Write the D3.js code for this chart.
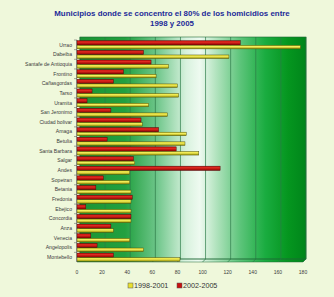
<!DOCTYPE html>
<html lang="es">
<head>
<meta charset="UTF-8">
<title>Homicidios</title>
<script src="https://d3js.org/d3.v7.min.js"></script>
<style>
  body { margin: 0; background: #eff8db; }
  svg { display: block; font-family: "Liberation Sans", Arial, sans-serif; }
</style>
</head>
<body>
<svg width="334" height="297"></svg>
<script>
// datos
const municipios = ["Urrao", "Dabeiba", "Santafe de Antioquia", "Frontino", "Cañasgordas", "Tarso",
  "Uramita", "San Jeronimo", "Ciudad bolivar", "Amaga", "Betulia", "Santa Barbara", "Salgar",
  "Andes", "Sopetran", "Betania", "Fredonia", "Ebejico", "Concordia", "Anza", "Venecia",
  "Angelopolis", "Montebello"];
const p1998 = [178, 121, 73, 63, 80, 81, 57, 72, 52, 87, 86, 97, 46, 42, 42, 43, 43, 43, 43, 29, 42, 53, 82];
const p2002 = [130, 53, 59, 37, 29, 12, 8, 27, 51, 65, 24, 79, 45, 114, 21, 15, 44, 7, 43, 27, 11, 16, 29];
const ticks = [0, 20, 40, 60, 80, 100, 120, 140, 160, 180];
const series = ["1998-2001", "2002-2005"];

const svg = d3.select("svg");
const mLeft = 77, mRight = 303, mTop = 40, mBottom = 262;
const depth = 3;

const x = d3.scaleLinear().domain([0, 180]).range([mLeft, mRight]);
const y = d3.scaleBand().domain(municipios).range([mTop, mBottom]).paddingInner(0);

const defs = svg.append("defs");
const wall = defs.append("linearGradient").attr("id", "wall").attr("x1", 0).attr("x2", 1).attr("y1", 0).attr("y2", 0);
[[0, "#1a9433"], [0.2, "#22a040"], [0.34, "#6ec68a"], [0.47, "#d8f2de"], [0.53, "#eefaf0"],
 [0.6, "#b4e4c0"], [0.71, "#5cc47a"], [0.82, "#1aac40"], [0.92, "#05961f"], [1, "#00851a"]]
  .forEach(s => wall.append("stop").attr("offset", s[0]).attr("stop-color", s[1]));

function barGrad(id, dark, mid, light) {
  const g = defs.append("linearGradient").attr("id", id).attr("x1", 0).attr("x2", 0).attr("y1", 0).attr("y2", 1);
  g.append("stop").attr("offset", 0).attr("stop-color", mid);
  g.append("stop").attr("offset", 0.35).attr("stop-color", light);
  g.append("stop").attr("offset", 1).attr("stop-color", dark);
}
barGrad("gy", "#9a9400", "#e0d820", "#f6f060");
barGrad("gr", "#8a0000", "#c40c0c", "#e02a20");

// pared del fondo
svg.append("rect")
  .attr("x", mLeft + depth).attr("y", mTop - depth)
  .attr("width", mRight - mLeft).attr("height", mBottom - mTop)
  .attr("fill", "url(#wall)");

// piso
svg.append("path")
  .attr("d", `M${mLeft},${mBottom} L${mLeft + depth},${mBottom - depth} L${mRight + depth},${mBottom - depth} L${mRight},${mBottom} Z`)
  .attr("fill", "url(#wall)").attr("stroke", "#1e6a36").attr("stroke-width", 0.5);

// rejilla
svg.append("g").selectAll("line").data(ticks).join("line")
  .attr("x1", d => x(d) + depth).attr("x2", d => x(d) + depth)
  .attr("y1", mTop - depth).attr("y2", mBottom - depth)
  .attr("stroke", "#2d7a48").attr("stroke-width", 0.7);
svg.append("g").selectAll("line").data(ticks).join("line")
  .attr("x1", d => x(d) + depth).attr("x2", d => x(d))
  .attr("y1", mBottom - depth).attr("y2", mBottom)
  .attr("stroke", "#2d7a48").attr("stroke-width", 0.7);

svg.append("rect")
  .attr("x", mLeft + depth).attr("y", mTop - depth)
  .attr("width", mRight - mLeft).attr("height", mBottom - mTop)
  .attr("fill", "none").attr("stroke", "#1e6a36").attr("stroke-width", 0.6);

// barras
const bh = y.bandwidth();
const rows = svg.append("g").selectAll("g").data(municipios).join("g")
  .attr("transform", d => `translate(0,${y(d)})`);

rows.append("rect")
  .attr("x", mLeft).attr("y", bh * 0.07)
  .attr("width", (d, i) => x(p2002[i]) - mLeft).attr("height", bh * 0.45)
  .attr("fill", "url(#gr)").attr("stroke", "#4a0a0a").attr("stroke-width", 0.45);
rows.append("rect")
  .attr("x", mLeft).attr("y", bh * 0.55)
  .attr("width", (d, i) => x(p1998[i]) - mLeft).attr("height", bh * 0.37)
  .attr("fill", "url(#gy)").attr("stroke", "#4a4a10").attr("stroke-width", 0.45);

// eje y
svg.append("line").attr("x1", mLeft - 0.5).attr("x2", mLeft - 0.5).attr("y1", mTop).attr("y2", mBottom)
  .attr("stroke", "#555").attr("stroke-width", 0.6);
svg.append("g").selectAll("line").data(municipios).join("line")
  .attr("x1", mLeft - 3).attr("x2", mLeft).attr("y1", d => y(d)).attr("y2", d => y(d))
  .attr("stroke", "#555").attr("stroke-width", 0.5);

svg.append("g").selectAll("text").data(municipios).join("text")
  .attr("x", mLeft - 5).attr("y", d => y(d) + bh / 2 + 1.8)
  .attr("text-anchor", "end").attr("font-size", 5.1).attr("fill", "#3a3a3a")
  .text(d => d);

// eje x
svg.append("g").selectAll("text").data(ticks).join("text")
  .attr("x", d => x(d)).attr("y", 274)
  .attr("text-anchor", "middle").attr("font-size", 5).attr("fill", "#3a3a3a")
  .text(d => d);

// título
const title = svg.append("text").attr("text-anchor", "middle").attr("font-weight", "bold")
  .attr("font-size", 7.9).attr("fill", "#1c2a98");
title.append("tspan").attr("x", 172).attr("y", 16).text("Municipios donde se concentro el 80% de los homicidios entre");
title.append("tspan").attr("x", 172).attr("y", 26).text("1998 y 2005");

// leyenda
const legend = svg.append("g").attr("transform", "translate(128,288)");
const lcol = ["#e8e030", "#c81010"];
series.forEach((s, i) => {
  const g = legend.append("g").attr("transform", `translate(${i * 49},0)`);
  g.append("rect").attr("x", 0).attr("y", -5).attr("width", 5).attr("height", 5)
    .attr("fill", lcol[i]).attr("stroke", "#555").attr("stroke-width", 0.5);
  g.append("text").attr("x", 6).attr("y", 0).attr("font-size", 7.2).attr("fill", "#333").text(s);
});
</script>
</body>
</html>
